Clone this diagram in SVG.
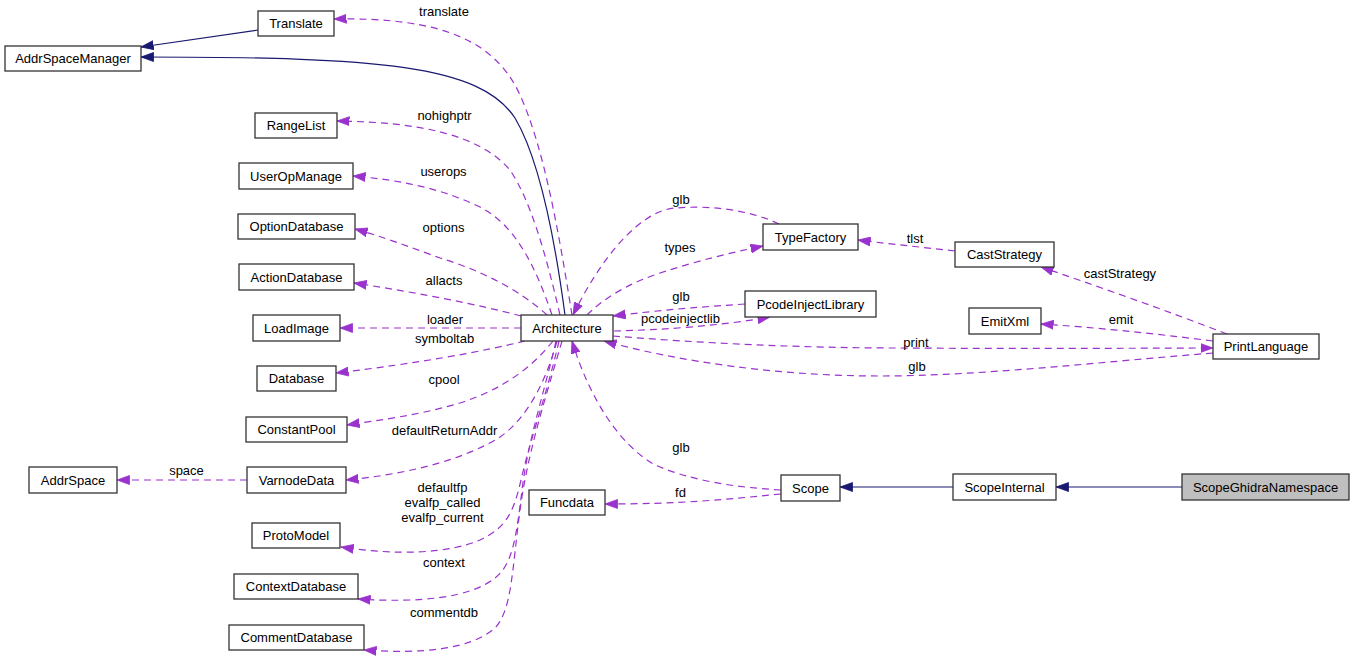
<svg xmlns="http://www.w3.org/2000/svg" width="1355" height="659" viewBox="0 0 1355 659">
<style>
.n rect{fill:#fff;stroke:#333;stroke-width:1.3}
.n text{font-family:"Liberation Sans",Arial,sans-serif;font-size:13px;fill:#000;text-anchor:middle}
.l{font-family:"Liberation Sans",Arial,sans-serif;font-size:13px;fill:#000;text-anchor:middle}
.d{fill:none;stroke:#9a32cd;stroke-width:1.2;stroke-dasharray:7,5;marker-end:url(#ap)}
.s{fill:none;stroke:#191970;stroke-width:1.2;marker-end:url(#an)}
</style>
<defs>
<marker id="ap" markerUnits="userSpaceOnUse" markerWidth="13" markerHeight="10" viewBox="0 0 13 10" refX="12.5" refY="5" orient="auto"><path d="M0,0.5 L12.5,5 L0,9.5 z" fill="#9a32cd" stroke="#9a32cd" stroke-width="0.8"/></marker>
<marker id="an" markerUnits="userSpaceOnUse" markerWidth="13" markerHeight="10" viewBox="0 0 13 10" refX="12.5" refY="5" orient="auto"><path d="M0,0.5 L12.5,5 L0,9.5 z" fill="#191970" stroke="#191970" stroke-width="0.8"/></marker>
</defs>
<rect width="1355" height="659" fill="#fff"/>
<g id="connectors">
<path class="s" d="M258,30 L141,47"/>
<path class="s" d="M565,315 C555,240 540,160 515,118 C480,65 380,57 141,57"/>
<path class="d" d="M572,315 C560,240 545,150 520,95 C495,40 440,17 334,19"/>
<path class="d" d="M560,315 C545,250 530,200 510,170 C480,135 420,122 337,121"/>
<path class="d" d="M552,315 C535,265 515,225 480,207 C440,188 400,180 353,176"/>
<path class="d" d="M547,315 C520,290 480,270 440,258 C410,247 380,236 355,229"/>
<path class="d" d="M521,316 C480,305 420,293 354,283"/>
<path class="d" d="M521,328 L340,328"/>
<path class="d" d="M525,341 C480,352 420,363 336,373"/>
<path class="d" d="M553,341 C530,370 500,390 460,403 C420,415 380,420 347,425"/>
<path class="d" d="M557,341 C545,385 525,420 500,437 C460,462 400,475 346,480"/>
<path class="d" d="M559,341 C548,390 530,440 521,480 C513,515 505,528 480,540 C450,553 400,556 341,547"/>
<path class="d" d="M556,341 C545,390 528,440 522,490 C516,540 512,565 495,578 C470,598 420,603 358,599"/>
<path class="d" d="M562,341 C548,390 528,450 520,510 C512,570 512,610 495,628 C470,650 420,654 364,650"/>
<path class="d" d="M247,480 L117,480"/>
<path class="d" d="M587,315 C605,297 630,283 660,273 C700,260 730,253 763,246"/>
<path class="d" d="M779,224 C750,210 710,205 677,208 C650,208 610,240 573,315"/>
<path class="d" d="M745,304 C700,307 660,310 613,316"/>
<path class="d" d="M614,331 C660,330 720,326 770,317"/>
<path class="d" d="M613,336 C700,343 800,348 900,348 C1050,349 1150,348 1213,348"/>
<path class="d" d="M1213,353 C1100,362 980,376 880,376 C780,376 680,362 604,341"/>
<path class="d" d="M955,251 C920,247 890,244 858,240"/>
<path class="d" d="M1227,334 C1170,312 1100,287 1041,267"/>
<path class="d" d="M1213,341 C1150,333 1090,327 1041,324"/>
<path class="d" d="M781,490 C730,487 690,480 655,465 C620,445 590,400 572,341"/>
<path class="d" d="M781,494 C720,500 680,504 605,504"/>
<path class="s" d="M953,487 L840,487"/>
<path class="s" d="M1182,487 L1056,487"/>
</g>
<g id="labels">
<text class="l" x="444" y="16">translate</text>
<text class="l" x="444.5" y="119.5">nohighptr</text>
<text class="l" x="443.5" y="175.5">userops</text>
<text class="l" x="443.5" y="232">options</text>
<text class="l" x="444" y="285">allacts</text>
<text class="l" x="445" y="324">loader</text>
<text class="l" x="444.5" y="342.5">symboltab</text>
<text class="l" x="444" y="384">cpool</text>
<text class="l" x="444.5" y="435">defaultReturnAddr</text>
<text class="l" x="442.5" y="492"><tspan x="442.5">defaultfp</tspan><tspan x="442.5" dy="15">evalfp_called</tspan><tspan x="442.5" dy="15">evalfp_current</tspan></text>
<text class="l" x="444" y="567">context</text>
<text class="l" x="444" y="617">commentdb</text>
<text class="l" x="186.5" y="475">space</text>
<text class="l" x="681" y="204">glb</text>
<text class="l" x="680" y="252">types</text>
<text class="l" x="681" y="301">glb</text>
<text class="l" x="680.5" y="322.5">pcodeinjectlib</text>
<text class="l" x="915" y="243">tlst</text>
<text class="l" x="1120" y="278">castStrategy</text>
<text class="l" x="1121" y="324">emit</text>
<text class="l" x="916" y="347">print</text>
<text class="l" x="917" y="371">glb</text>
<text class="l" x="681" y="452">glb</text>
<text class="l" x="680.5" y="497">fd</text>
</g>
<g id="Translate" class="n"><rect x="258" y="11" width="76" height="25"/><text x="296" y="28">Translate</text></g>
<g id="AddrSpaceManager" class="n"><rect x="5" y="46" width="136" height="25"/><text x="73" y="63">AddrSpaceManager</text></g>
<g id="RangeList" class="n"><rect x="255" y="113" width="82" height="25"/><text x="296" y="130">RangeList</text></g>
<g id="UserOpManage" class="n"><rect x="239" y="163" width="114" height="26"/><text x="296" y="181">UserOpManage</text></g>
<g id="OptionDatabase" class="n"><rect x="238" y="214" width="117" height="25"/><text x="296.5" y="231">OptionDatabase</text></g>
<g id="ActionDatabase" class="n"><rect x="239" y="264" width="115" height="26"/><text x="296.5" y="282">ActionDatabase</text></g>
<g id="LoadImage" class="n"><rect x="253" y="315" width="87" height="26"/><text x="296.5" y="333">LoadImage</text></g>
<g id="Database" class="n"><rect x="257" y="366" width="79" height="25"/><text x="296.5" y="383">Database</text></g>
<g id="ConstantPool" class="n"><rect x="246" y="417" width="101" height="25"/><text x="296.5" y="434">ConstantPool</text></g>
<g id="VarnodeData" class="n"><rect x="247" y="467" width="99" height="26"/><text x="296.5" y="485">VarnodeData</text></g>
<g id="AddrSpace" class="n"><rect x="29" y="467" width="88" height="26"/><text x="73" y="485">AddrSpace</text></g>
<g id="ProtoModel" class="n"><rect x="252" y="523" width="88" height="25"/><text x="296" y="540">ProtoModel</text></g>
<g id="ContextDatabase" class="n"><rect x="234" y="574" width="124" height="25"/><text x="296" y="591">ContextDatabase</text></g>
<g id="CommentDatabase" class="n"><rect x="229" y="625" width="135" height="25"/><text x="296.5" y="642">CommentDatabase</text></g>
<g id="Architecture" class="n"><rect x="521" y="315" width="92" height="26"/><text x="567" y="333">Architecture</text></g>
<g id="TypeFactory" class="n"><rect x="763" y="224" width="95" height="26"/><text x="810.5" y="242">TypeFactory</text></g>
<g id="PcodeInjectLibrary" class="n"><rect x="745" y="291" width="131" height="26"/><text x="810.5" y="309">PcodeInjectLibrary</text></g>
<g id="CastStrategy" class="n"><rect x="955" y="242" width="99" height="25"/><text x="1004.5" y="259">CastStrategy</text></g>
<g id="EmitXml" class="n"><rect x="969" y="308" width="72" height="26"/><text x="1005" y="326">EmitXml</text></g>
<g id="PrintLanguage" class="n"><rect x="1213" y="334" width="106" height="25"/><text x="1266" y="351">PrintLanguage</text></g>
<g id="Funcdata" class="n"><rect x="529" y="490" width="76" height="25"/><text x="567" y="507">Funcdata</text></g>
<g id="Scope" class="n"><rect x="781" y="475" width="59" height="26"/><text x="810.5" y="493">Scope</text></g>
<g id="ScopeInternal" class="n"><rect x="953" y="474" width="103" height="26"/><text x="1004.5" y="492">ScopeInternal</text></g>
<g id="ScopeGhidraNamespace" class="n"><rect x="1182" y="474" width="167" height="26" style="fill:#bfbfbf"/><text x="1265.5" y="492">ScopeGhidraNamespace</text></g>
</svg>
